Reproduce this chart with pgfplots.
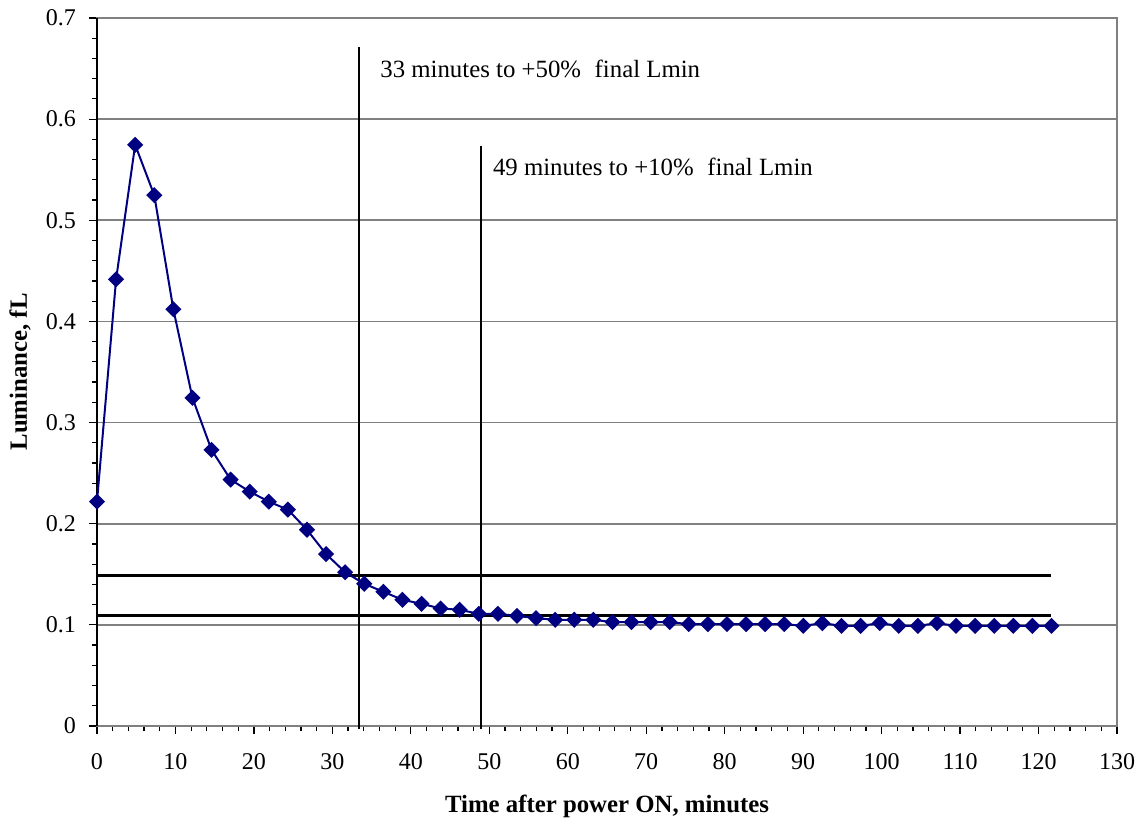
\documentclass[border=0pt]{standalone}
\usepackage{fontspec}
\setmainfont{Liberation Serif}
\usepackage{pgfplots}
\pgfplotsset{compat=1.18}
\definecolor{navy}{HTML}{000080}

\pgfplotstableread{
t y
0.000 0.2218
2.433 0.4416
4.866 0.5746
7.299 0.5248
9.732 0.4120
12.165 0.3244
14.598 0.2730
17.031 0.2436
19.464 0.2317
21.897 0.2218
24.330 0.2139
26.763 0.1940
29.196 0.1700
31.629 0.1520
34.062 0.1406
36.495 0.1327
38.928 0.1248
41.361 0.1208
43.794 0.1162
46.227 0.1149
48.660 0.1109
51.093 0.1109
53.526 0.1089
55.959 0.1066
58.392 0.1050
60.825 0.1050
63.258 0.1050
65.691 0.1027
68.124 0.1027
70.557 0.1027
72.990 0.1027
75.423 0.1007
77.856 0.1007
80.289 0.1007
82.722 0.1007
85.155 0.1007
87.588 0.1007
90.021 0.0990
92.454 0.1017
94.887 0.0990
97.320 0.0990
99.753 0.1017
102.186 0.0990
104.619 0.0990
107.052 0.1017
109.485 0.0990
111.918 0.0990
114.351 0.0990
116.784 0.0990
119.217 0.0990
121.650 0.0990
}\lum

\begin{document}
\begin{tikzpicture}
\begin{axis}[
  scale only axis, width=510pt, height=354pt,
  xmin=0, xmax=130, ymin=0, ymax=0.7,
  xtick={0,10,...,130},
  ytick={0,0.1,0.2,0.3,0.4,0.5,0.6,0.7},
  yticklabels={0,0.1,0.2,0.3,0.4,0.5,0.6,0.7},
  minor tick num=4,
  tick align=outside, xtick pos=bottom, ytick pos=left,
  major tick length=4pt, minor tick length=2.6pt,
  ymajorgrids, grid style={gray, line width=0.8pt},
  axis line style={gray, line width=0.8pt},
  tick style={black, line width=0.6pt},
  /pgf/number format/assume math mode=true,
  ticklabel style={font=\fontsize{12}{14}\selectfont},
  xticklabel style={yshift=-6pt},
  yticklabel style={xshift=-3pt},
  xlabel={\textbf{Time after power ON, minutes}},
  ylabel={\textbf{Luminance, fL}},
  label style={font=\fontsize{12.4}{14}\selectfont},
  xlabel style={at={(rel axis cs:0.5,-0.114)}, anchor=center},
  ylabel style={at={(rel axis cs:-0.0755,0.5)}, anchor=center},
  clip=false,
]
  \path (rel axis cs:-0.0951,-0.1427) rectangle (rel axis cs:1.0245,1.0254);
  \draw[gray, line width=1.4pt] (rel axis cs:0,0) -- (rel axis cs:1,0);
  \draw[black, line width=0.8pt] (rel axis cs:0,0) -- (rel axis cs:0,1);

  % threshold lines
  \addplot[black, line width=1.6pt, forget plot] coordinates {(0,0.1485) (121.65,0.1485)};
  \addplot[black, line width=1.6pt, forget plot] coordinates {(0,0.1089) (121.65,0.1089)};
  \addplot[black, line width=0.9pt, forget plot] coordinates {(33.43,-0.003) (33.43,0.671)};
  \addplot[black, line width=0.9pt, forget plot] coordinates {(48.94,-0.003) (48.94,0.573)};

  \addplot[navy, line width=1pt, mark=square*, mark size=2.35pt,
    mark options={rotate=45, solid}] table[x=t, y=y] {\lum};

  \node[anchor=west, inner sep=0pt, font=\fontsize{12.4}{14}\selectfont] at (axis cs:36.07,0.6495) {33 minutes to +50\%\hspace{0.3em} final Lmin};
  \node[anchor=west, inner sep=0pt, font=\fontsize{12.4}{14}\selectfont] at (axis cs:50.43,0.5525) {49 minutes to +10\%\hspace{0.3em} final Lmin};
\end{axis}
\end{tikzpicture}
\end{document}
